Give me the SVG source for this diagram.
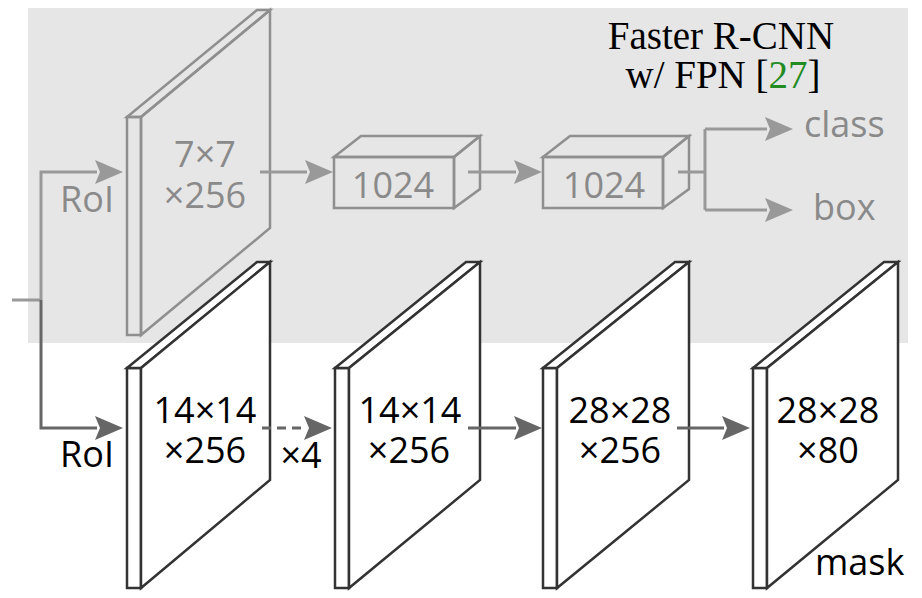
<svg xmlns="http://www.w3.org/2000/svg" width="922" height="598" viewBox="0 0 922 598">
<defs>
<style>
.bg{fill:#e6e6e6}
.gslab{fill:none;stroke:#8f8f8f;stroke-width:2.5;stroke-linejoin:miter}
.bslab{fill:#fff;stroke:#333;stroke-width:2.5;stroke-linejoin:miter}
.gt{font-family:"Open Sans","Noto Sans",sans-serif;font-size:36px;fill:#8a8a8a}
.bt{font-family:"Open Sans","Noto Sans",sans-serif;font-size:36px;fill:#000}
.title{font-family:"Liberation Serif","Times New Roman",serif;font-size:39px;fill:#000}
.gl{fill:none;stroke:#999;stroke-width:3}
.dl{fill:none;stroke:#666;stroke-width:3}
</style>
<marker id="ag" viewBox="0 0 28 24" refX="2" refY="12" markerWidth="28" markerHeight="24" markerUnits="userSpaceOnUse" orient="auto">
<path d="M0,0 L28,12 L0,24 L5,12 Z" fill="#999"/>
</marker>
<marker id="ad" viewBox="0 0 28 24" refX="2" refY="12" markerWidth="28" markerHeight="24" markerUnits="userSpaceOnUse" orient="auto">
<path d="M0,0 L28,12 L0,24 L5,12 Z" fill="#666"/>
</marker>
</defs>
<rect class="bg" x="28" y="8" width="880" height="335"/>
<g id="title">
<text class="title" x="721" y="49" text-anchor="middle">Faster R-CNN</text>
<text class="title" x="723" y="88" text-anchor="middle">w/ FPN [<tspan fill="#228b22">27</tspan>]</text>
</g>
<g id="roi-top">
<text class="gt" x="87" y="212" text-anchor="middle">RoI</text>
</g>
<g id="slab-7x7">
<rect class="gslab" x="127" y="117" width="14" height="218"/>
<path class="gslab" d="M127,117 L257,10 L270,10 L141,117 Z"/>
<path class="gslab" d="M141,117 L270,10 L270,228 L141,335 Z"/>
<text class="gt" x="205" y="167" text-anchor="middle">7×7</text>
<text class="gt" x="205" y="208" text-anchor="middle">×256</text>
</g>
<g id="fc1">
<rect class="gslab" x="334" y="157" width="120" height="51"/>
<path class="gslab" d="M334,157 L361,136 L480,136 L454,157 Z"/>
<path class="gslab" d="M454,157 L480,136 L480,189 L454,208 Z"/>
<text class="gt" x="393" y="198" text-anchor="middle">1024</text>
</g>
<g id="fc2">
<rect class="gslab" x="543" y="157" width="120" height="51"/>
<path class="gslab" d="M543,157 L570,136 L689,136 L663,157 Z"/>
<path class="gslab" d="M663,157 L689,136 L689,189 L663,208 Z"/>
<text class="gt" x="604" y="198" text-anchor="middle">1024</text>
</g>
<g id="out-class"><text class="gt" x="804" y="137">class</text></g>
<g id="out-box"><text class="gt" x="813" y="220">box</text></g>
<g id="roi-bottom">
<text class="bt" x="87" y="467" text-anchor="middle">RoI</text>
</g>
<g id="slab-1">
<rect class="bslab" x="127" y="368" width="14" height="220"/>
<path class="bslab" d="M127,368 L257,262 L270,262 L141,368 Z"/>
<path class="bslab" d="M141,368 L270,262 L270,480 L141,588 Z"/>
<text class="bt" x="205" y="423" text-anchor="middle">14×14</text>
<text class="bt" x="205" y="463" text-anchor="middle">×256</text>
</g>
<g id="slab-2">
<rect class="bslab" x="335" y="368" width="14" height="220"/>
<path class="bslab" d="M335,368 L466,262 L480,262 L349,368 Z"/>
<path class="bslab" d="M349,368 L480,262 L480,480 L349,588 Z"/>
<text class="bt" x="410" y="423" text-anchor="middle">14×14</text>
<text class="bt" x="409" y="463" text-anchor="middle">×256</text>
</g>
<g id="slab-3">
<rect class="bslab" x="543" y="368" width="14" height="220"/>
<path class="bslab" d="M543,368 L675,262 L689,262 L557,368 Z"/>
<path class="bslab" d="M557,368 L689,262 L689,480 L557,588 Z"/>
<text class="bt" x="620" y="423" text-anchor="middle">28×28</text>
<text class="bt" x="620" y="463" text-anchor="middle">×256</text>
</g>
<g id="slab-4">
<rect class="bslab" x="753" y="368" width="14" height="220"/>
<path class="bslab" d="M753,368 L884,262 L898,262 L767,368 Z"/>
<path class="bslab" d="M767,368 L898,262 L898,480 L767,588 Z"/>
<text class="bt" x="828" y="423" text-anchor="middle">28×28</text>
<text class="bt" x="828" y="463" text-anchor="middle">×80</text>
<text class="bt" x="815" y="575">mask</text>
</g>
<g id="x4"><text class="bt" x="301" y="468" text-anchor="middle">×4</text></g>
<g id="connectors">
<path class="gl" d="M12,300 H41"/>
<path class="gl" d="M41,300 V172 H97" marker-end="url(#ag)"/>
<path class="dl" d="M41,300 V428 H97" marker-end="url(#ad)"/>
<path class="gl" d="M260,172 H307" marker-end="url(#ag)"/>
<path class="gl" d="M468,172 H516" marker-end="url(#ag)"/>
<path class="gl" d="M678,172 H705"/>
<path class="gl" d="M705,129 V210"/>
<path class="gl" d="M705,129 H767" marker-end="url(#ag)"/>
<path class="gl" d="M705,210 H767" marker-end="url(#ag)"/>
<path class="dl" d="M262,428 H306" stroke-dasharray="9 6" marker-end="url(#ad)"/>
<path class="dl" d="M468,428 H516" marker-end="url(#ad)"/>
<path class="dl" d="M677,428 H724" marker-end="url(#ad)"/>
</g>
</svg>
